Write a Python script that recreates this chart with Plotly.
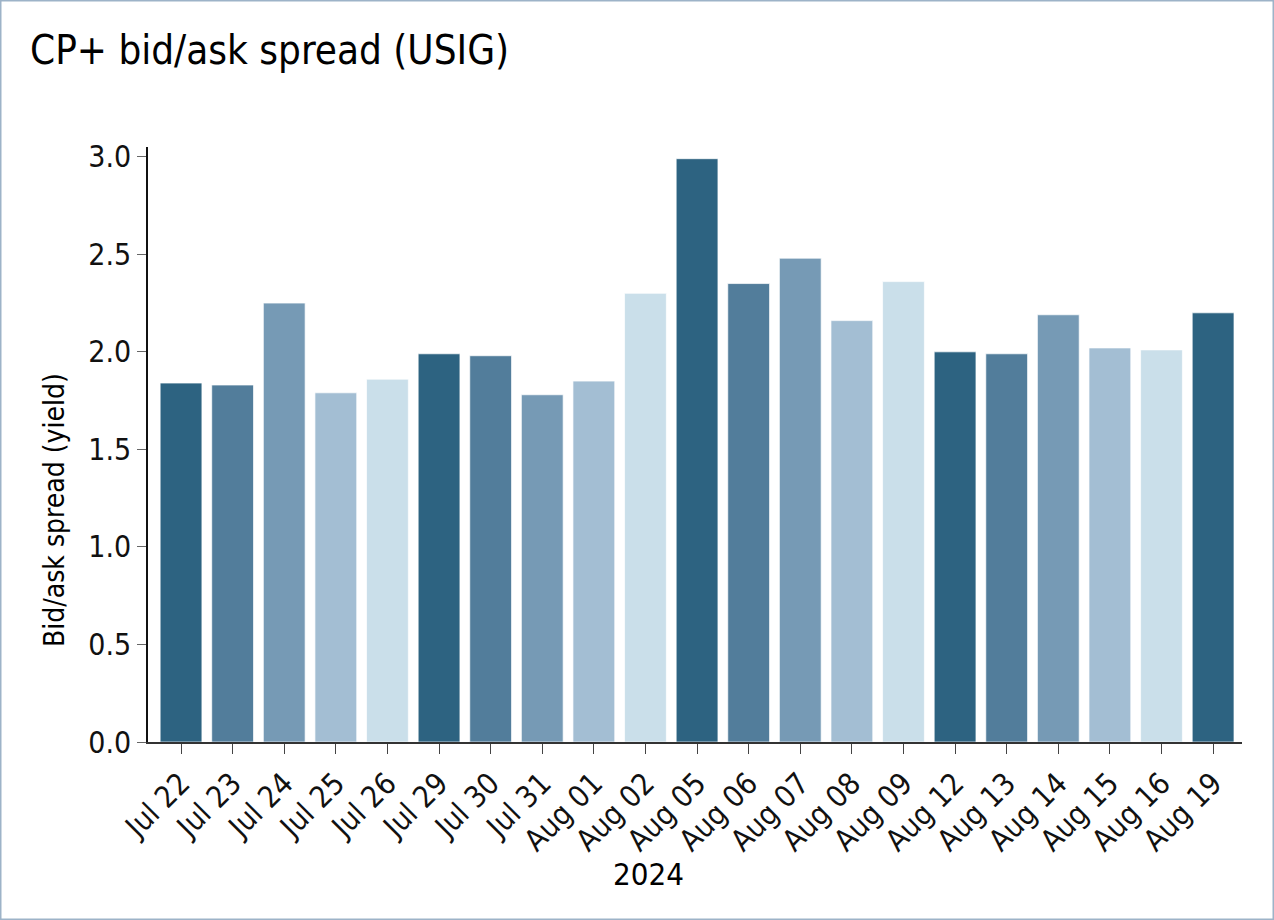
import plotly.graph_objects as go

dates = ["Jul 22", "Jul 23", "Jul 24", "Jul 25", "Jul 26", "Jul 29", "Jul 30", "Jul 31",
         "Aug 01", "Aug 02", "Aug 05", "Aug 06", "Aug 07", "Aug 08", "Aug 09", "Aug 12",
         "Aug 13", "Aug 14", "Aug 15", "Aug 16", "Aug 19"]
spread = [1.84, 1.83, 2.25, 1.79, 1.86, 1.99, 1.98, 1.78,
          1.85, 2.30, 2.99, 2.35, 2.48, 2.16, 2.36, 2.00,
          1.99, 2.19, 2.02, 2.01, 2.20]
palette = ["#2d6381", "#527d9b", "#769ab5", "#a3bed3", "#cadfea"]
y_ticks = [0.0, 0.5, 1.0, 1.5, 2.0, 2.5, 3.0]

FONT = "Liberation Sans Narrow, Arial Narrow, DejaVu Sans Condensed, Roboto Condensed, sans-serif"

W, H = 1274, 920
L, R, T, B = 148, 32, 147, 178
pw, ph = W - L - R, H - T - B

def px(x):
    return (x - L) / pw

def py(y):
    return (H - B - y) / ph

colors = [palette[i % len(palette)] for i in range(len(dates))]

fig = go.Figure(go.Bar(
    x=dates, y=spread,
    marker=dict(color=colors, line=dict(color="rgba(255,255,255,0.7)", width=1)),
    hoverinfo="x+y",
))

fig.update_layout(
    width=W, height=H,
    margin=dict(l=L, r=R, t=T, b=B, pad=0, autoexpand=False),
    paper_bgcolor="white", plot_bgcolor="white",
    showlegend=False,
    bargap=0.19,
    font=dict(family=FONT, color="#111111"),
    xaxis=dict(
        type="category",
        automargin=False,
        range=[-0.64, 20.56],
        tickangle=-45,
        tickfont=dict(size=30, family=FONT, color="#111111"),
        ticks="outside", ticklen=10, tickcolor="#444444", tickwidth=1.2,
        showline=True, linecolor="#333333", linewidth=1.5,
        showgrid=False, zeroline=False,
    ),
    yaxis=dict(
        automargin=False,
        range=[0, 3.05],
        tickvals=y_ticks,
        ticktext=[f"{v:.1f}" for v in y_ticks],
        tickfont=dict(size=30, family=FONT, color="#111111"),
        ticks="outside", ticklen=9, tickcolor="#666666", tickwidth=1.2,
        showline=True, linecolor="#111111", linewidth=1.5,
        showgrid=False, zeroline=False,
    ),
    annotations=[
        dict(text="CP+ bid/ask spread (USIG)", xref="paper", yref="paper",
             x=px(28), y=py(50), xanchor="left", yanchor="middle",
             showarrow=False, font=dict(size=40, family=FONT, color="#000000")),
        dict(text="Bid/ask spread (yield)", xref="paper", yref="paper",
             x=px(54), y=py(510), xanchor="center", yanchor="middle", textangle=-90,
             showarrow=False, font=dict(size=28, family=FONT, color="#000000")),
        dict(text="2024", xref="paper", yref="paper",
             x=px(648), y=py(874), xanchor="center", yanchor="middle",
             showarrow=False, font=dict(size=31, family=FONT, color="#000000")),
    ],
    shapes=[
        dict(type="rect", xref="paper", yref="paper",
             x0=px(0.75), x1=px(W - 0.75), y0=py(H - 0.75), y1=py(0.75),
             line=dict(color="#9db3c8", width=1.5), fillcolor="rgba(0,0,0,0)", layer="below"),
    ],
)

fig.write_html("out.html", config={"displayModeBar": False},
               post_script="document.body.style.margin='0';")
